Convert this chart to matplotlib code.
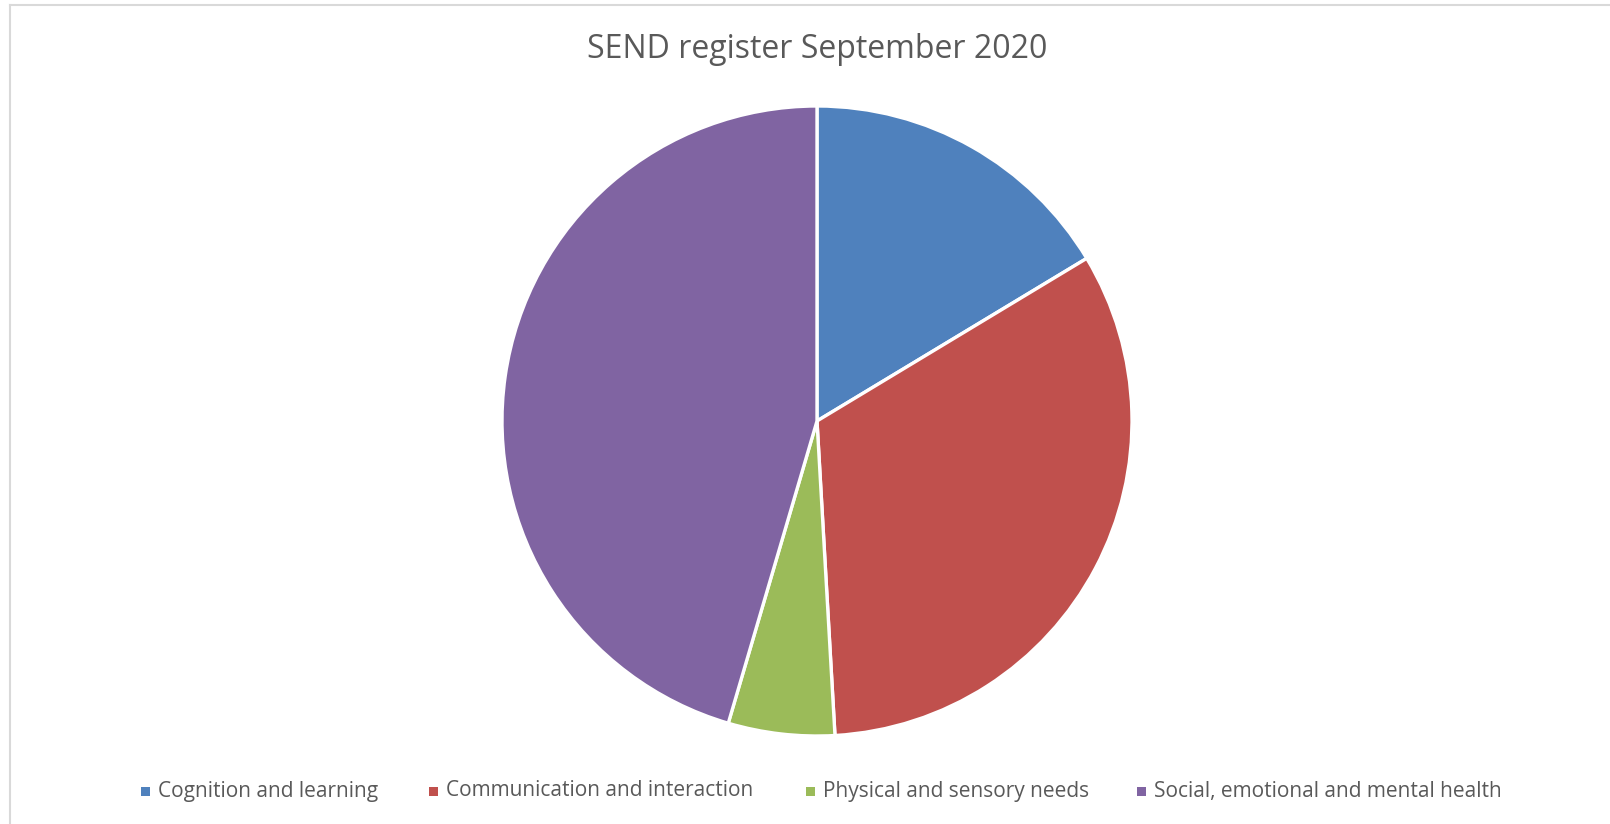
import matplotlib
matplotlib.use("Agg")
import matplotlib.pyplot as plt
from matplotlib.lines import Line2D
from matplotlib.patches import Rectangle

title = "SEND register September 2020"
categories = ["Cognition and learning", "Communication and interaction",
              "Physical and sensory needs", "Social, emotional and mental health"]
values = [9, 18, 3, 25]
colors = ["#4f81bd", "#c0504d", "#9bbb59", "#8064a2"]

W, H = 1610, 824
fig = plt.figure(figsize=(W / 100, H / 100), dpi=100)
fig.patch.set_facecolor("white")

cx, cy, r = 817, 421, 315
ax = fig.add_axes([(cx - r) / W, (H - cy - r) / H, 2 * r / W, 2 * r / H])
ax.pie(values, colors=colors, startangle=90, counterclock=False, radius=1,
       wedgeprops=dict(edgecolor="white", linewidth=2.4))
ax.set_xlim(-1, 1)
ax.set_ylim(-1, 1)
ax.set_aspect("equal")
ax.axis("off")

fig.text(cx / W, 1 - 49 / H, title, ha="center", va="center",
         fontsize=23, color="#595959", family="Open Sans")

marker_x = [145, 433, 810, 1141]
ly = 791
for mx, lab, c in zip(marker_x, categories, colors):
    fig.patches.append(Rectangle(((mx - 4.5) / W, 1 - (ly + 4.5) / H), 9 / W, 9 / H,
                                 transform=fig.transFigure, facecolor=c,
                                 edgecolor="none"))
    fig.text((mx + 13) / W, 1 - ly / H, lab, ha="left", va="center",
             fontsize=15, color="#595959", family="Open Sans")

fig.lines.append(Line2D([9.5 / W, 1], [1 - 4.5 / H, 1 - 4.5 / H],
                        transform=fig.transFigure, color="#d9d9d9", linewidth=1.5))
fig.lines.append(Line2D([9.5 / W, 9.5 / W], [0, 1 - 4.5 / H],
                        transform=fig.transFigure, color="#d9d9d9", linewidth=1.5))

fig.savefig("out.png", dpi=100, facecolor="white")
